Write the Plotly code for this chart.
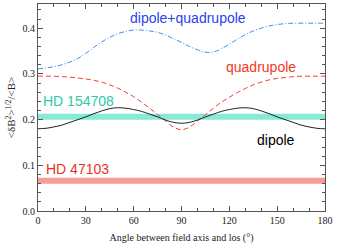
import plotly.graph_objects as go

# angle between field axis and line of sight (deg)
angle = [0, 5, 10, 15, 20, 25, 30, 35, 40, 45, 50, 55, 60, 65, 70, 75, 80, 85, 90,
         95, 100, 105, 110, 115, 120, 125, 130, 135, 140, 145, 150, 155, 160, 165, 170, 175, 180]

dipole = [0.180, 0.181, 0.184, 0.188, 0.194, 0.200, 0.206, 0.213, 0.219, 0.224, 0.226, 0.225,
          0.222, 0.218, 0.212, 0.206, 0.199, 0.194, 0.192, 0.194, 0.199, 0.206, 0.212, 0.218,
          0.222, 0.225, 0.226, 0.224, 0.219, 0.213, 0.206, 0.200, 0.194, 0.188, 0.184, 0.181, 0.180]
quadrupole = [0.295, 0.295, 0.295, 0.294, 0.293, 0.291, 0.289, 0.286, 0.282, 0.276, 0.269, 0.260,
              0.250, 0.238, 0.225, 0.211, 0.197, 0.1835, 0.178, 0.1835, 0.197, 0.211, 0.225, 0.238,
              0.249, 0.259, 0.268, 0.276, 0.282, 0.287, 0.290, 0.292, 0.294, 0.295, 0.295, 0.295, 0.295]
dip_quad = [0.311, 0.313, 0.316, 0.320, 0.326, 0.334, 0.345, 0.358, 0.370, 0.380, 0.388, 0.393,
            0.396, 0.396, 0.394, 0.391, 0.385, 0.377, 0.369, 0.360, 0.353, 0.3475, 0.348, 0.355,
            0.365, 0.376, 0.386, 0.394, 0.400, 0.405, 0.408, 0.410, 0.411, 0.411, 0.411, 0.411, 0.411]

# observed values
hd154708 = 0.206
hd47103 = 0.066

serif = "Liberation Serif"
sans = "Liberation Sans"

fig = go.Figure()

fig.add_trace(go.Scatter(x=[0, 180], y=[hd154708, hd154708], mode="lines",
                         line=dict(color="#86ead6", width=6)))
fig.add_trace(go.Scatter(x=[0, 180], y=[hd47103, hd47103], mode="lines",
                         line=dict(color="#f79c96", width=6)))
fig.add_trace(go.Scatter(x=angle, y=dip_quad, mode="lines", line_shape="spline",
                         line=dict(color="#3f8ef5", width=1, dash="5px,2px,1px,2px")))
fig.add_trace(go.Scatter(x=angle, y=quadrupole, mode="lines", line_shape="spline",
                         line=dict(color="#f0402e", width=1, dash="5px,3px")))
fig.add_trace(go.Scatter(x=angle, y=dipole, mode="lines", line_shape="spline",
                         line=dict(color="#222222", width=1)))

labels = [
    ("dipole+quadrupole", 94, 0.423, "#2a44e6", "center"),
    ("quadrupole", 140, 0.316, "#f03a24", "center"),
    ("dipole", 149, 0.155, "#000000", "center"),
    ("HD 154708", 2, 0.241, "#2ec9a6", "left"),
    ("HD 47103", 4, 0.092, "#e8321e", "left"),
]
for txt, x, y, c, xa in labels:
    fig.add_annotation(x=x, y=y, text=txt, showarrow=False, xanchor=xa,
                       font=dict(family=sans, size=14, color=c))

axis_style = dict(showline=True, linecolor="#555555", linewidth=1, mirror="ticks",
                  ticks="inside", ticklen=5, tickcolor="#555555", showgrid=False,
                  zeroline=False, automargin=False,
                  tickfont=dict(family=serif, size=10, color="#222222"))

fig.update_xaxes(range=[0, 180], tickvals=[0, 30, 60, 90, 120, 150, 180],
                 minor=dict(dtick=10, ticks="inside", ticklen=3, tickcolor="#555555"),
                 title=dict(text="Angle between field axis and los (°)", standoff=8,
                            font=dict(family=serif, size=10, color="#222222")),
                 **axis_style)
fig.update_yaxes(range=[0, 0.453], tickvals=[0, 0.1, 0.2, 0.3, 0.4], tickformat=".1f",
                 minor=dict(dtick=0.02, ticks="inside", ticklen=3, tickcolor="#555555"),
                 title=dict(text="&lt;δB<sup>2</sup>&gt;<sup>1/2</sup>/&lt;B&gt;", standoff=4,
                            font=dict(family=serif, size=11, color="#222222")),
                 **axis_style)

fig.update_layout(width=338, height=248, showlegend=False,
                  margin=dict(l=38, r=13, t=4, b=37),
                  plot_bgcolor="white", paper_bgcolor="white")

fig.write_html("out.html", config={"displayModeBar": False},
               post_script="document.body.style.margin='0';")
